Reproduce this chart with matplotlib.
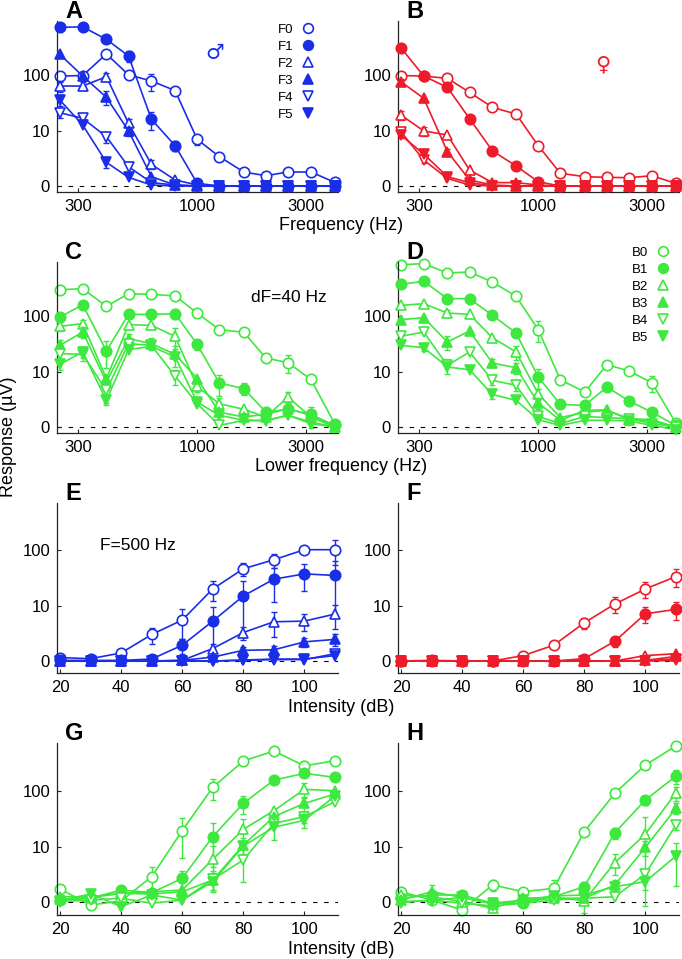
import numpy as np
import matplotlib
matplotlib.use("Agg")
import matplotlib.pyplot as plt
from matplotlib.lines import Line2D
from matplotlib.ticker import NullLocator, FixedLocator

plt.rcParams['font.family'] = ['Liberation Sans', 'DejaVu Sans']

# x values
freqs = [250, 315, 400, 500, 630, 800, 1000, 1250, 1600, 2000, 2500, 3150, 4000]
levels = [20, 30, 40, 50, 60, 70, 80, 90, 100, 110]

# A: male vowel, harmonics F0..F5 vs frequency
resp_a = [
    [97, 99, 235, 102, 79.5, 54, 6.7, 2.76, 0.93, 0.63, 0.93, 0.93, 0.2],
    [680, 690, 421, 217, 16.4, 4.95, 0.14, 0, 0, 0, 0, 0, 0],
    [64.9, 64.9, 94.6, 13.8, 1.7, 0.34, 0.05, 0, 0, 0, 0, 0, 0],
    [232, 97, 41, 9.9, 0.56, 0.05, 0, 0, 0, 0, 0, 0, 0],
    [21.7, 17.1, 7.6, 1.44, 0.18, 0.05, 0, 0, 0, 0, 0, 0, 0],
    [36.7, 12.8, 1.95, 0.51, 0.05, 0, 0, 0, 0, 0, 0, 0, 0],
]
err_a = [
    [0, 0, 0, 0, 27, 0, 1.7, 0, 0, 0, 0, 0, 0],
    [0, 0, 0, 45, 6, 1.2, 0, 0, 0, 0, 0, 0, 0],
    [13, 10, 15, 3, 0.5, 0, 0, 0, 0, 0, 0, 0, 0],
    [0, 0, 11, 2, 0, 0, 0, 0, 0, 0, 0, 0, 0],
    [4, 0, 2, 0.5, 0, 0, 0, 0, 0, 0, 0, 0, 0],
    [7.6, 0, 0.6, 0, 0, 0, 0, 0, 0, 0, 0, 0, 0],
]

# B: female vowel
resp_b = [
    [99, 97, 88.5, 50.3, 27.1, 20.5, 4.95, 0.82, 0.56, 0.51, 0.49, 0.63, 0.14],
    [302, 97, 61.5, 16.9, 3.8, 1.52, 0.23, 0, 0, 0, 0, 0, 0],
    [19.7, 9.9, 8.2, 1.11, 0.18, 0.18, 0.05, 0, 0, 0, 0, 0, 0],
    [77.4, 39.4, 3.64, 0.34, 0.05, 0, 0, 0, 0, 0, 0, 0, 0],
    [9.56, 2.26, 0.44, 0.05, 0, 0, 0, 0, 0, 0, 0, 0, 0],
    [8.2, 3.2, 0.56, 0.18, 0, 0, 0, 0, 0, 0, 0, 0, 0],
]
err_b = [
    [0, 0, 0, 0, 0, 0, 0, 0, 0, 0, 0, 0, 0],
    [0, 0, 0, 3, 0, 0, 0, 0, 0, 0, 0, 0, 0],
    [4, 1.9, 0, 0, 0, 0, 0, 0, 0, 0, 0, 0, 0],
    [10, 0, 0.6, 0, 0, 0, 0, 0, 0, 0, 0, 0, 0],
    [1.5, 0.4, 0, 0, 0, 0, 0, 0, 0, 0, 0, 0, 0],
    [1.2, 0, 0, 0, 0, 0, 0, 0, 0, 0, 0, 0, 0],
]

# C: two-tone, dF = 40 Hz, vs lower frequency
resp_c = [
    [290, 302, 149, 247, 241, 226, 114, 58.4, 52.4, 18.1, 14.8, 7.0, 0.18],
    [97, 159, 24.3, 108, 108, 111, 32, 5.9, 4.5, 1.0, 1.27, 0.82, 0.08],
    [66.8, 74.4, 7.3, 71.4, 69.5, 44.5, 5.0, 1.9, 1.27, 0.61, 2.86, 0.61, 0],
    [30.7, 53, 6.2, 40.4, 32.9, 21.1, 7.3, 1.0, 0.61, 0.82, 1.34, 0.74, 0],
    [21.7, 21.1, 4.1, 32.9, 30.7, 8.2, 1.9, 0.08, 0.38, 0.38, 0.74, 0.18, 0],
    [13.8, 23.3, 2.35, 25.7, 29.5, 18.9, 2.1, 0.74, 0.38, 0.34, 0.74, 0.27, 0],
]
err_c = [
    [0, 0, 0, 0, 0, 0, 0, 0, 8, 0, 5.4, 0, 0],
    [0, 0, 12.5, 15, 20, 22, 7, 2.8, 1.3, 0, 0, 0, 0],
    [12, 12, 0, 0, 0, 18, 1.2, 0.85, 0, 0, 0.9, 0, 0],
    [7, 12, 2, 8, 8, 8.7, 0, 0, 0, 0, 0, 0.8, 0],
    [5, 5, 2.1, 0, 0, 2.8, 0, 0, 0, 0, 0, 0, 0],
    [3, 5, 0.6, 0, 0, 0, 0, 0, 0, 0, 0, 0, 0],
]

# D
resp_d = [
    [785, 817, 564, 586, 394, 223, 58.4, 6.9, 3.76, 13.6, 10.3, 6.0, 0.23],
    [359, 405, 203, 203, 104, 51, 7.85, 1.82, 1.7, 4.86, 2.26, 1.0, 0.08],
    [155, 166, 114, 108, 42.1, 23.3, 3.44, 0.56, 1.0, 1.17, 0.49, 0.42, 0],
    [87.4, 94.6, 35.3, 55.2, 14.6, 11.9, 1.99, 0.38, 1.17, 1.22, 0.42, 0.34, 0],
    [44.5, 53, 13.2, 23.3, 6.7, 5.3, 0.65, 0.18, 0.65, 0.56, 0.49, 0.18, 0],
    [30.7, 27.9, 12.3, 10.9, 3.3, 2.35, 0.42, 0.08, 0.38, 0.38, 0.34, 0.08, -0.12],
]
err_d = [
    [0, 0, 0, 0, 0, 0, 23, 0, 0, 1.5, 0, 2.2, 0],
    [0, 0, 25, 0, 0, 8, 3.5, 0, 0, 0, 0.6, 0, 0],
    [0, 0, 15, 0, 0, 6.6, 1, 0, 0, 0, 0, 0, 0],
    [0, 0, 10, 0, 2.5, 3, 0.7, 0, 0, 0, 0, 0, 0],
    [0, 0, 4.3, 0, 1.2, 1.4, 0, 0, 0, 0, 0, 0, 0],
    [0, 4, 0, 0, 0.7, 0, 0, 0, 0, 0, 0, 0, 0],
]

# E: F = 500 Hz vs intensity (male)
resp_e = [
    [0.18, 0.12, 0.47, 2.33, 5.1, 20.6, 47.4, 68.4, 102.5, 102.5],
    [0.03, 0.03, 0.03, 0.1, 1.09, 4.84, 15.3, 30.9, 38.5, 36],
    [0, 0, 0, 0, 0.03, 0.8, 2.62, 4.68, 4.84, 6.8],
    [0, 0, 0, 0, 0.03, 0.21, 0.66, 0.7, 1.42, 1.7],
    [0, 0, 0, 0, 0, 0, 0.03, 0.07, 0.07, 0.42],
    [0, 0, 0, 0, 0, 0, 0.05, 0.1, 0.1, 0.3],
]
err_e = [
    [0, 0, 0, 1.1, 3.4, 8.5, 12, 19, 12, 47],
    [0, 0, 0, 0, 0.7, 4.5, 13, 19, 19.5, 30],
    [0, 0, 0, 0, 0, 0.45, 1, 2.7, 2, 3.6],
    [0, 0, 0, 0, 0, 0, 0.3, 0.3, 0.5, 0.65],
    [0, 0, 0, 0, 0, 0, 0, 0, 0, 0],
    [0, 0, 0, 0, 0, 0, 0, 0, 0, 0],
]

# F (female)
resp_f = [
    [0, 0.03, 0, 0, 0.3, 1.09, 4.45, 10.75, 20.6, 34.5],
    [0, 0, 0, 0, 0, 0, 0.12, 1.49, 6.9, 8.45],
    [0, 0, 0, 0, 0, 0, 0, 0, 0.3, 0.42],
    [0, 0, 0, 0, 0, 0, 0, 0, 0.03, 0.25],
    [0, 0, 0, 0, 0, 0, 0, 0, 0, 0.03],
    [0, 0, 0, 0, 0, 0, 0, 0, 0, 0.12],
]
err_f = [
    [0, 0, 0, 0, 0, 0, 1.25, 3.6, 6.6, 12],
    [0, 0, 0, 0, 0, 0, 0, 0.55, 2.5, 3.3],
    [0, 0, 0, 0, 0, 0, 0, 0, 0, 0],
    [0, 0, 0, 0, 0, 0, 0, 0, 0, 0],
    [0, 0, 0, 0, 0, 0, 0, 0, 0, 0],
    [0, 0, 0, 0, 0, 0, 0, 0, 0, 0],
]

# G
resp_g = [
    [0.84, -0.14, 0.05, 2.17, 20, 117, 336, 500, 276, 341],
    [0.1, 0.2, 0.76, 0.56, 1.95, 15.5, 61.5, 157, 205, 175],
    [0.29, 0.29, 0.51, 0.63, 0.76, 5.55, 21.1, 45.7, 108, 102.6],
    [0.14, 0.25, 0.51, 0.47, 0.63, 1.74, 10.75, 35.7, 61.5, 89.8],
    [0.02, 0.1, 0.2, -0.06, 0.1, 1.82, 5.37, 27.1, 35.7, 65.9],
    [0.07, 0.47, -0.21, 0.4, 0.1, 1.55, 10.3, 23, 30.9, 82.8],
]
err_g = [
    [0, 0, 0, 1.5, 14, 46, 0, 0, 61, 0],
    [0, 0, 0, 0, 1.1, 11.7, 21, 25, 0, 0],
    [0, 0, 0, 0, 0, 4.8, 11, 0, 33, 0],
    [0, 0, 0, 0, 0, 1, 3.6, 0, 19, 0],
    [0, 0, 0, 0, 0, 1.2, 3.9, 0, 8, 0],
    [0, 0, 0, 0, 0, 0, 0, 9.5, 8.7, 0],
]

# H
resp_h = [
    [0.63, 0.1, -0.34, 1.21, 0.63, 0.9, 19.2, 92.3, 287, 611],
    [0.2, 0.4, 0.4, -0.06, -0.06, 0.29, 1.05, 18.3, 70.5, 184],
    [0.4, 0.29, 0.02, -0.28, 0.2, 0.25, 0.07, 4.7, 17.3, 94.6],
    [0.1, 0.63, 0.25, -0.1, 0.07, 0.2, 0.2, 1.21, 9.7, 50.3],
    [-0.03, 0.1, -0.06, -0.18, -0.06, 0.1, 0.2, 0.29, 2.55, 25.4],
    [0.02, 0.07, 0.25, -0.06, 0.1, 0.34, 0.4, 1.05, 1.55, 6.5],
]
err_h = [
    [0, 0, 0, 0.55, 0, 0.85, 0, 0, 0, 0],
    [0, 0, 0, 0, 0, 0, 0.5, 4, 12, 50],
    [0, 0, 0, 0, 0, 0, 0.5, 2.3, 17.5, 26],
    [0, 0.55, 0, 0, 0, 0, 0, 0.5, 3.3, 11],
    [0, 0, 0, 0, 0, 0, 0, 0, 0.85, 5],
    [0, 0, 0, 0, 0, 0, 0, 0, 0.8, 5.4],
]

labels_f = ['F0', 'F1', 'F2', 'F3', 'F4', 'F5']
labels_b = ['B0', 'B1', 'B2', 'B3', 'B4', 'B5']
markers = ['o', 'o', '^', '^', 'v', 'v']
filled = [False, True, False, True, False, True]

BLUE = '#1a2ee8'
RED = '#ee1c2a'
GREEN = '#3ee83e'

OFFSET = 1.25


def fwd(y):
    return np.log10(np.clip(np.asarray(y, dtype=float) + OFFSET, 1e-3, None))


def inv(y):
    return 10 ** np.asarray(y, dtype=float) - OFFSET


def draw_panel(ax, x, resp, err, color):
    ax.axhline(0, color='k', lw=0.8, ls=(0, (4, 6)), zorder=1)
    for i in range(6):
        y = np.array(resp[i], dtype=float)
        e = np.array(err[i], dtype=float)
        xs = np.array(x, dtype=float)
        m = e > 0
        if m.any():
            ax.errorbar(xs[m], y[m], yerr=e[m], fmt='none', ecolor=color,
                        elinewidth=1.0, capsize=2.5, capthick=1.0, zorder=2 + i)
        ax.plot(xs, y, color=color, lw=1.2, marker=markers[i], ms=7.5, mew=1.2,
                mec=color, mfc=color if filled[i] else 'white', zorder=2.05 + i,
                clip_on=False)


fig = plt.figure(figsize=(6.82, 9.59), dpi=100)
W, H = 682.0, 959.0

col_left = [57, 398]
ax_w = 281
row_top = [21, 262, 503, 743]
row_bot = [192, 433, 673, 915]
row_ylim = [(-0.265, 873), (-0.265, 873), (-0.474, 661), (-0.504, 688)]

panels = [
    ('A', 0, 0, freqs, resp_a, err_a, BLUE),
    ('B', 0, 1, freqs, resp_b, err_b, RED),
    ('C', 1, 0, freqs, resp_c, err_c, GREEN),
    ('D', 1, 1, freqs, resp_d, err_d, GREEN),
    ('E', 2, 0, levels, resp_e, err_e, BLUE),
    ('F', 2, 1, levels, resp_f, err_f, RED),
    ('G', 3, 0, levels, resp_g, err_g, GREEN),
    ('H', 3, 1, levels, resp_h, err_h, GREEN),
]

axes = {}
for letter, r, c, x, resp, err, color in panels:
    rect = [col_left[c] / W, 1 - row_bot[r] / H, ax_w / W, (row_bot[r] - row_top[r]) / H]
    ax = fig.add_axes(rect)
    axes[letter] = ax
    ax.set_yscale('function', functions=(fwd, inv))
    ax.set_ylim(*row_ylim[r])
    if r < 2:
        ax.set_xscale('log')
        ax.set_xlim(243, 4140)
        ax.xaxis.set_major_locator(FixedLocator([300, 1000, 3000]))
        ax.xaxis.set_minor_locator(NullLocator())
        ax.set_xticklabels(['300', '1000', '3000'])
    else:
        ax.set_xlim(19, 111)
        ax.set_xticks([20, 40, 60, 80, 100])
    ax.yaxis.set_major_locator(FixedLocator([0, 10, 100]))
    ax.yaxis.set_minor_locator(NullLocator())
    ax.set_yticklabels(['0', '10', '100'])
    draw_panel(ax, x, resp, err, color)
    for s in ['top', 'right']:
        ax.spines[s].set_visible(False)
    for s in ['left', 'bottom']:
        ax.spines[s].set_linewidth(0.9)
        ax.spines[s].set_color('#222222')
    ax.tick_params(direction='in', length=3, width=0.8, labelsize=12, pad=5,
                   color='#222222')
    ax.text(8 / ax_w, 1 + 3 / (row_bot[r] - row_top[r]), letter,
            transform=ax.transAxes, fontsize=17, fontweight='bold',
            ha='left', va='baseline')

# legends
def make_handles(color):
    return [Line2D([], [], ls='none', marker=markers[i], ms=7, mew=1.2, mec=color,
                   mfc=color if filled[i] else 'white') for i in range(6)]


axes['A'].legend(make_handles(BLUE), labels_f, loc='upper right',
                 bbox_to_anchor=(0.917, 0.985), frameon=False, markerfirst=False,
                 fontsize=9.5, handlelength=1.0, handletextpad=0.6,
                 labelspacing=0.36, borderpad=0, borderaxespad=0)
axes['D'].legend(make_handles(GREEN), labels_b, loc='upper right',
                 bbox_to_anchor=(0.9665, 1.09), frameon=False, markerfirst=False,
                 fontsize=9.5, handlelength=1.0, handletextpad=0.6,
                 labelspacing=0.36, borderpad=0, borderaxespad=0)

# annotations
fig.text(215 / W, 1 - 53 / H, '\u2642', color=BLUE, fontsize=15,
         family='DejaVu Sans', ha='center', va='center')
fig.text(603 / W, 1 - 64 / H, '\u2640', color=RED, fontsize=15,
         family='DejaVu Sans', ha='center', va='center')
fig.text(289 / W, 1 - 297 / H, 'dF=40 Hz', fontsize=12.5, ha='center', va='center')
fig.text(138 / W, 1 - 546 / H, 'F=500 Hz', fontsize=12.5, ha='center', va='center')

fig.text(341 / W, 1 - 226 / H, 'Frequency (Hz)', fontsize=13, ha='center', va='center')
fig.text(341 / W, 1 - 466 / H, 'Lower frequency (Hz)', fontsize=13, ha='center', va='center')
fig.text(341 / W, 1 - 707 / H, 'Intensity (dB)', fontsize=13, ha='center', va='center')
fig.text(341 / W, 1 - 950 / H, 'Intensity (dB)', fontsize=13, ha='center', va='center')
fig.text(9 / W, 1 - 437 / H, 'Response (\u00b5V)', fontsize=13, ha='center',
         va='center', rotation=90)

fig.savefig('out.png', dpi=100)
